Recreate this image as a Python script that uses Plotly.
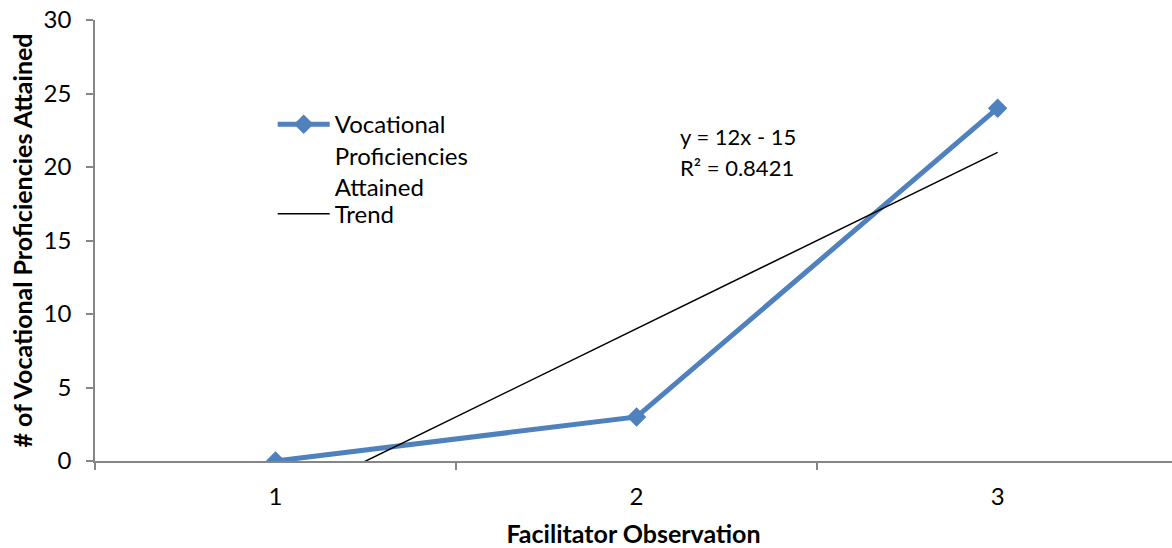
import numpy as np
import plotly.graph_objects as go

observations = [1, 2, 3]
proficiencies = [0, 3, 24]
x_tick_labels = ["1", "2", "3"]
y_ticks = [0, 5, 10, 15, 20, 25, 30]

# linear trendline (least squares) as Excel does
slope, intercept = np.polyfit(observations, proficiencies, 1)
pred = np.polyval([slope, intercept], observations)
ss_res = np.sum((np.array(proficiencies) - pred) ** 2)
ss_tot = np.sum((np.array(proficiencies) - np.mean(proficiencies)) ** 2)
r2 = 1 - ss_res / ss_tot
trend_x = [observations[0], observations[-1]]
trend_y = list(np.polyval([slope, intercept], trend_x))

FONT = "Lato"
AX = "#868686"
BLUE = "#4F81BD"

fig = go.Figure()
fig.add_trace(go.Scatter(
    x=observations, y=proficiencies, mode="lines+markers",
    name="Vocational<br>Proficiencies<br>Attained",
    line=dict(color=BLUE, width=5),
    marker=dict(symbol="diamond", size=15, color=BLUE),
    legend="legend",
))
fig.add_trace(go.Scatter(
    x=trend_x, y=trend_y, mode="lines", name="Trend",
    line=dict(color="black", width=1.5),
    legend="legend2",
))

fig.add_annotation(x=2.115, y=22.1, xref="x", yref="y", xanchor="left", yanchor="middle",
                   text=f"y = {slope:.0f}x - {abs(intercept):.0f}", showarrow=False,
                   font=dict(family=FONT, size=22, color="black"))
fig.add_annotation(x=2.115, y=20.0, xref="x", yref="y", xanchor="left", yanchor="middle",
                   text=f"R² = {r2:.4f}", showarrow=False,
                   font=dict(family=FONT, size=22, color="black"))

legend_common = dict(xanchor="left", yanchor="top", bgcolor="rgba(0,0,0,0)",
                     valign="top", itemwidth=52,
                     font=dict(family=FONT, size=24, color="black"))

fig.update_layout(
    width=1172, height=548,
    margin=dict(l=95, r=0, t=20, b=87, autoexpand=False),
    paper_bgcolor="white", plot_bgcolor="white",
    font=dict(family=FONT, size=24, color="black"),
    showlegend=True,
    legend=dict(x=0.165, y=0.814, **legend_common),
    legend2=dict(x=0.165, y=0.611, **legend_common),
    xaxis=dict(
        range=[0.5, 3.483], tickmode="array", tickvals=observations, ticktext=x_tick_labels,
        showgrid=False, zeroline=False, showline=True, linecolor=AX, linewidth=2,
        ticks="", ticklabelstandoff=13, automargin=False,
        tickfont=dict(family=FONT, size=24),
        minor=dict(ticks="outside", tick0=0.5, dtick=1, ticklen=7, tickcolor=AX, tickwidth=1.5, showgrid=False),
        title=dict(text="<b>Facilitator Observation</b>", font=dict(family=FONT, size=25), standoff=21),
    ),
    yaxis=dict(
        range=[0, 30], tickmode="array", tickvals=y_ticks,
        showgrid=False, zeroline=False, showline=True, linecolor=AX, linewidth=1.5,
        ticks="outside", ticklen=7, tickcolor=AX, tickwidth=1.5, ticklabelstandoff=10,
        ticklabeloverflow="allow", automargin=False,
        tickfont=dict(family=FONT, size=24),
        title=dict(text="<b># of Vocational Proficiencies Attained</b>", font=dict(family=FONT, size=25), standoff=4),
    ),
)

fig.write_html("out.html", config={"displayModeBar": False},
               post_script="document.body.style.margin='0';")
